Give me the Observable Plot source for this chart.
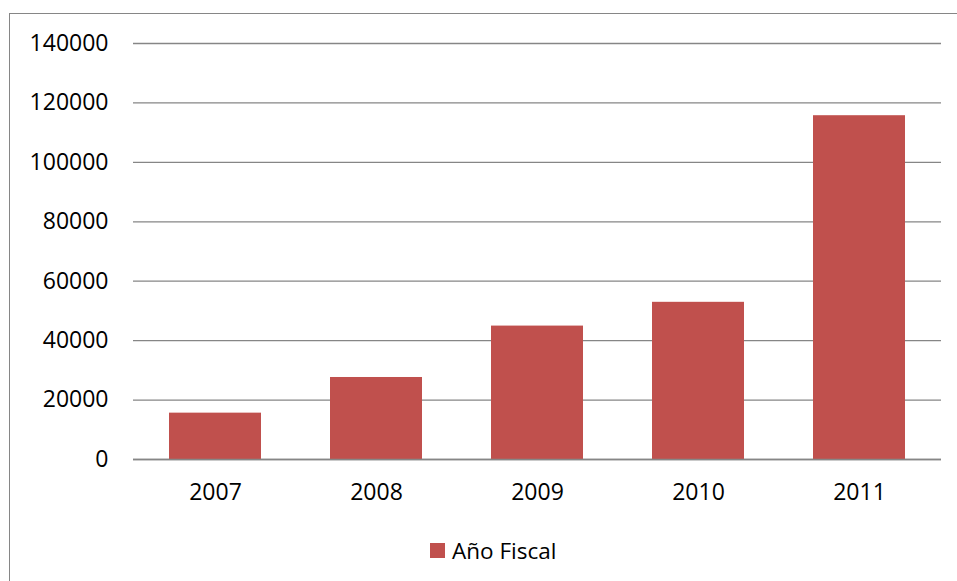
<!DOCTYPE html>
<html>
<head>
<meta charset="utf-8">
<script src="https://cdn.jsdelivr.net/npm/d3@7"></script>
<script src="https://cdn.jsdelivr.net/npm/@observablehq/plot@0.6"></script>
<style>
  html, body { margin: 0; padding: 0; background: #fff; }
  #wrap { position: relative; width: 957px; height: 581px; overflow: hidden; font-family: "Open Sans", sans-serif; }
  #frame { position: absolute; left: 9px; top: 13px; width: 960px; height: 600px; border-left: 1.5px solid #868686; border-top: 1.5px solid #868686; box-sizing: border-box; }
  #chart { position: absolute; left: 0; top: 0; }
  #legend { position: absolute; left: 430px; top: 535px; display: flex; align-items: center; font-size: 22.5px; color: #000; }
  #legend .sw { width: 15px; height: 15px; background: #C0504D; margin-right: 7px; }
</style>
</head>
<body>
<div id="wrap">
  <div id="frame"></div>
  <div id="chart"></div>
  <div id="legend"><span class="sw"></span><span id="legendText"></span></div>
</div>
<script>
const years = ["2007", "2008", "2009", "2010", "2011"];
const values = [15600, 27600, 44900, 52900, 115700];
const yTicks = [0, 20000, 40000, 60000, 80000, 100000, 120000, 140000];
const seriesName = "Año Fiscal";

const data = years.map((y, i) => ({year: y, value: values[i]}));

const chart = Plot.plot({
  width: 957,
  height: 520,
  marginLeft: 133,
  marginRight: 16,
  marginTop: 43,
  marginBottom: 61,
  style: {fontFamily: "'Open Sans', sans-serif", fontSize: "23px", color: "#000", background: "transparent"},
  x: {domain: years, paddingInner: 0.4286, paddingOuter: 0.2143, label: null},
  y: {domain: [0, 140000], label: null},
  marks: [
    Plot.ruleY(yTicks, {stroke: "#868686", strokeWidth: 1.3}),
    Plot.barY(data, {x: "year", y: "value", fill: "#C0504D"}),
    Plot.ruleY([0], {stroke: "#868686", strokeWidth: 1.3}),
    Plot.axisY(yTicks, {tickSize: 0, tickPadding: 25, tickFormat: d => String(d), label: null, fontSize: 23}),
    Plot.axisX({tickSize: 0, tickPadding: 24, label: null, fontSize: 23})
  ]
});
document.getElementById("chart").appendChild(chart);
document.getElementById("legendText").textContent = seriesName;
</script>
</body>
</html>
